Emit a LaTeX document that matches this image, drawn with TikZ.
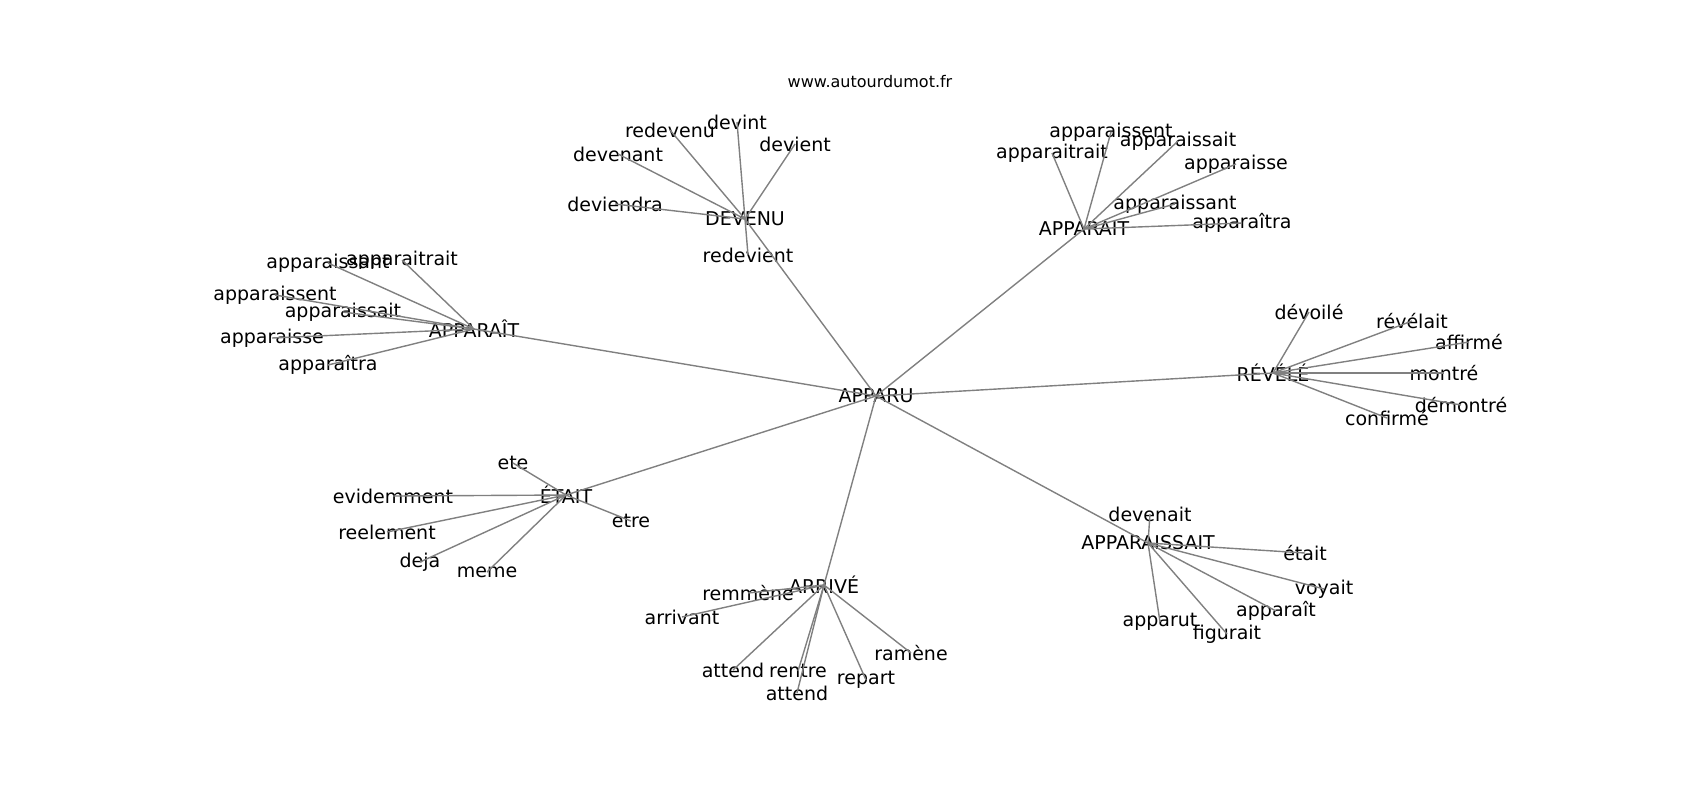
\documentclass[tikz,border=0pt]{standalone}
\usepackage{fontspec}
\setmainfont{DejaVu Sans}

\tikzset{
	word/.style={inner sep=0pt,font=\fontsize{9.5}{11}\selectfont},
	link/.style={draw=gray,line width=0.7pt}
}

\begin{document}
\begin{tikzpicture}[x=0.5pt,y=-0.5pt]
		\useasboundingbox (0,0) rectangle (1700,800);
		
		\node[inner sep=0pt,font=\fontsize{8}{10}\selectfont] (site) at (870,82){www.autourdumot.fr};
		
		\node[word] (apparu) at (876,396){APPARU};
		
		% DEVENU
		\node[word] (devenu) at (745,219){DEVENU};
		\node[word] (redevenu) at (670,130){redevenu};
		\node[word] (devint) at (737,122){devint};
		\node[word] (devient) at (795,144){devient};
		\node[word] (devenant) at (618,154){devenant};
		\node[word] (deviendra) at (615,204){deviendra};
		\node[word] (redevient) at (748,255){redevient};
		
		% APPARAIT
		\node[word] (apparait) at (1084,229){APPARAIT};
		\node[word] (aSent) at (1111,132){apparaissent};
		\node[word] (aTrait) at (1052,153){apparaitrait};
		\node[word] (aSait) at (1178,141){apparaissait};
		\node[word] (aSe) at (1236,164){apparaisse};
		\node[word] (aSant) at (1175,204){apparaissant};
		\node[word] (aTra) at (1242,223){apparaîtra};
		
		% APPARAÎT
		\node[word] (apparaitc) at (474,329){APPARAÎT};
		\node[word] (cSant) at (328,263){apparaissant};
		\node[word] (cTrait) at (402,260){apparaitrait};
		\node[word] (cSent) at (275,295){apparaissent};
		\node[word] (cSait) at (343,312){apparaissait};
		\node[word] (cSe) at (272,338){apparaisse};
		\node[word] (cTra) at (328,365){apparaîtra};
		
		% RÉVÉLÉ
		\node[word] (revele) at (1273,373){RÉVÉLÉ};
		\node[word] (devoile) at (1309,312){dévoilé};
		\node[word] (revelait) at (1412,321){révélait};
		\node[word] (affirme) at (1469,342){affirmé};
		\node[word] (montre) at (1444,373){montré};
		\node[word] (demontre) at (1461,405){démontré};
		\node[word] (confirme) at (1387,418){confirmé};
		
		% ÉTAIT
		\node[word] (etait) at (566,495){ÉTAIT};
		\node[word] (ete) at (513,463){ete};
		\node[word] (evidemment) at (393,496){evidemment};
		\node[word] (reelement) at (387,532){reelement};
		\node[word] (deja) at (420,562){deja};
		\node[word] (meme) at (487,572){meme};
		\node[word] (etre) at (631,521){etre};
		
		% ARRIVÉ
		\node[word] (arrive) at (824,585){ARRIVÉ};
		\node[word] (remmene) at (748,593){remmène};
		\node[word] (arrivant) at (682,617){arrivant};
		\node[word] (attend) at (733,670){attend};
		\node[word] (rentre) at (798,671){rentre};
		\node[word] (attendb) at (797,693){attend};
		\node[word] (repart) at (866,680){repart};
		\node[word] (ramene) at (911,653){ramène};
		
		% APPARAISSAIT
		\node[word] (apparaissait) at (1148,543){APPARAISSAIT};
		\node[word] (devenait) at (1150,514){devenait};
		\node[word] (etaitb) at (1305,553){était};
		\node[word] (voyait) at (1324,589){voyait};
		\node[word] (apparaitb) at (1276,611){apparaît};
		\node[word] (apparut) at (1160,622){apparut};
		\node[word] (figurait) at (1227,634){figurait};
		
		\foreach \hub in {devenu,apparait,apparaitc,revele,etait,arrive,apparaissait}
			\draw[link] (apparu.center) -- (\hub.center);
		\foreach \w in {redevenu,devint,devient,devenant,deviendra,redevient}
			\draw[link] (devenu.center) -- (\w.center);
		\foreach \w in {aSent,aTrait,aSait,aSe,aSant,aTra}
			\draw[link] (apparait.center) -- (\w.center);
		\foreach \w in {cSant,cTrait,cSent,cSait,cSe,cTra}
			\draw[link] (apparaitc.center) -- (\w.center);
		\foreach \w in {devoile,revelait,affirme,montre,demontre,confirme}
			\draw[link] (revele.center) -- (\w.center);
		\foreach \w in {ete,evidemment,reelement,deja,meme,etre}
			\draw[link] (etait.center) -- (\w.center);
		\foreach \w in {remmene,arrivant,attend,rentre,attendb,repart,ramene}
			\draw[link] (arrive.center) -- (\w.center);
		\foreach \w in {devenait,etaitb,voyait,apparaitb,apparut,figurait}
			\draw[link] (apparaissait.center) -- (\w.center);
	\end{tikzpicture}
\end{document}
